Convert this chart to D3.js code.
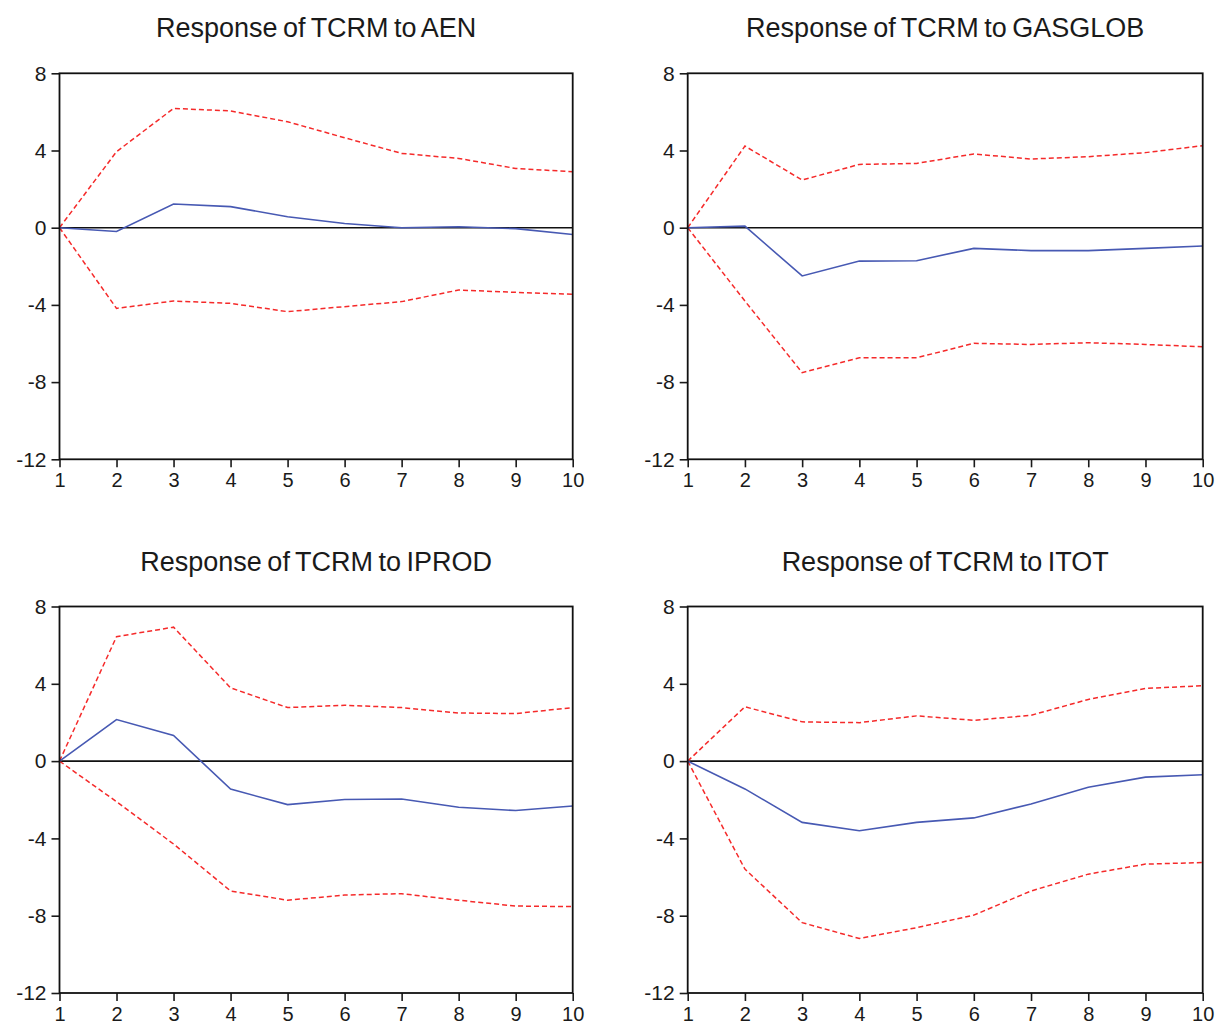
<!DOCTYPE html>
<html>
<head>
<meta charset="utf-8">
<script src="https://cdn.jsdelivr.net/npm/d3@7"></script>
<style>
  html, body { margin: 0; padding: 0; background: #fff; }
  svg { display: block; }
  text { font-family: "Liberation Sans", Arial, sans-serif; fill: #1a1a1a; }
</style>
</head>
<body>
<svg id="chart" width="1216" height="1025"></svg>
<script>
// Impulse responses of TCRM over a 10-period horizon, with ±2 S.E. bands
const periods = [1, 2, 3, 4, 5, 6, 7, 8, 9, 10];
const yTicks = [-12, -8, -4, 0, 4, 8];

const titles = [
  "Response of TCRM to AEN",
  "Response of TCRM to GASGLOB",
  "Response of TCRM to IPROD",
  "Response of TCRM to ITOT"
];

// AEN shock
const aenResp  = [0, -0.20, 1.23, 1.09, 0.57, 0.22, 0.00, 0.05, -0.05, -0.35];
const aenUpper = [0, 3.94, 6.18, 6.05, 5.49, 4.66, 3.85, 3.59, 3.07, 2.90];
const aenLower = [0, -4.18, -3.80, -3.92, -4.35, -4.09, -3.83, -3.23, -3.35, -3.45];

// GASGLOB shock
const gasResp  = [0, 0.08, -2.50, -1.73, -1.71, -1.07, -1.19, -1.19, -1.07, -0.95];
const gasUpper = [0, 4.23, 2.47, 3.28, 3.33, 3.82, 3.56, 3.68, 3.89, 4.25];
const gasLower = [0, -3.80, -7.51, -6.74, -6.74, -5.99, -6.05, -5.96, -6.05, -6.17];

// IPROD shock
const iprodResp  = [0, 2.15, 1.33, -1.45, -2.25, -1.99, -1.96, -2.39, -2.56, -2.32];
const iprodUpper = [0, 6.44, 6.93, 3.79, 2.77, 2.89, 2.77, 2.49, 2.46, 2.77];
const iprodLower = [0, -2.10, -4.29, -6.72, -7.20, -6.93, -6.86, -7.20, -7.50, -7.53];

// ITOT shock
const itotResp  = [0, -1.44, -3.17, -3.60, -3.17, -2.94, -2.22, -1.35, -0.83, -0.71];
const itotUpper = [0, 2.81, 2.03, 1.99, 2.34, 2.11, 2.37, 3.19, 3.76, 3.90];
const itotLower = [0, -5.59, -8.36, -9.18, -8.62, -7.97, -6.72, -5.85, -5.33, -5.25];

const panels = [
  { title: titles[0], resp: aenResp,   upper: aenUpper,   lower: aenLower },
  { title: titles[1], resp: gasResp,   upper: gasUpper,   lower: gasLower },
  { title: titles[2], resp: iprodResp, upper: iprodUpper, lower: iprodLower },
  { title: titles[3], resp: itotResp,  upper: itotUpper,  lower: itotLower }
];

// Plot-area frames: two columns, two rows
const cols = [{ x0: 59.5, x1: 572.7 }, { x0: 687.7, x1: 1202.7 }];
const rows = [{ y0: 73.3, y1: 459.3 }, { y0: 606.5, y1: 993 }];

const fmt = d => String(d);   // plain hyphen for negatives

const svg = d3.select("#chart");
svg.append("rect").attr("width", 1216).attr("height", 1025).attr("fill", "#fff");

panels.forEach((p, i) => {
  const c = cols[i % 2], r = rows[Math.floor(i / 2)];
  const x = d3.scaleLinear().domain([1, 10]).range([c.x0, c.x1]);
  const y = d3.scaleLinear().domain([-12, 8]).range([r.y1, r.y0]);
  const g = svg.append("g");

  // title
  g.append("text")
    .attr("x", (c.x0 + c.x1) / 2)
    .attr("y", r.y0 - 36)
    .attr("text-anchor", "middle")
    .attr("font-size", 27)
    .attr("word-spacing", -2)
    .text(p.title);

  // axes
  const yAxis = d3.axisLeft(y).tickValues(yTicks).tickSize(8).tickSizeOuter(0).tickPadding(5)
    .tickFormat(fmt);
  const gy = g.append("g").attr("transform", `translate(${c.x0},0)`).call(yAxis);
  gy.select(".domain").remove();
  gy.selectAll(".tick line").attr("stroke", "#1a1a1a").attr("stroke-width", 1.6);
  gy.selectAll(".tick text").attr("font-size", 21).attr("font-family", "Liberation Sans, Arial, sans-serif")
    .attr("fill", "#1a1a1a");

  const xAxis = d3.axisBottom(x).tickValues(periods).tickSize(8).tickSizeOuter(0).tickPadding(6)
    .tickFormat(fmt);
  const gx = g.append("g").attr("transform", `translate(0,${r.y1})`).call(xAxis);
  gx.select(".domain").remove();
  gx.selectAll(".tick line").attr("stroke", "#1a1a1a").attr("stroke-width", 1.6);
  gx.selectAll(".tick text").attr("font-size", 20).attr("font-family", "Liberation Sans, Arial, sans-serif")
    .attr("fill", "#1a1a1a");

  // zero line
  g.append("line")
    .attr("x1", x(1)).attr("x2", x(10))
    .attr("y1", y(0)).attr("y2", y(0))
    .attr("stroke", "#111").attr("stroke-width", 1.6);

  const line = d3.line().x((d, k) => x(periods[k])).y(d => y(d));

  // ±2 S.E. bands
  [p.upper, p.lower].forEach(band => {
    g.append("path")
      .attr("d", line(band))
      .attr("fill", "none")
      .attr("stroke", "#f52a2a")
      .attr("stroke-width", 1.5)
      .attr("stroke-dasharray", "5,3");
  });

  // response
  g.append("path")
    .attr("d", line(p.resp))
    .attr("fill", "none")
    .attr("stroke", "#4759b3")
    .attr("stroke-width", 1.6);

  // frame
  g.append("rect")
    .attr("x", c.x0).attr("y", r.y0)
    .attr("width", c.x1 - c.x0).attr("height", r.y1 - r.y0)
    .attr("fill", "none").attr("stroke", "#111").attr("stroke-width", 1.8);
});
</script>
</body>
</html>
